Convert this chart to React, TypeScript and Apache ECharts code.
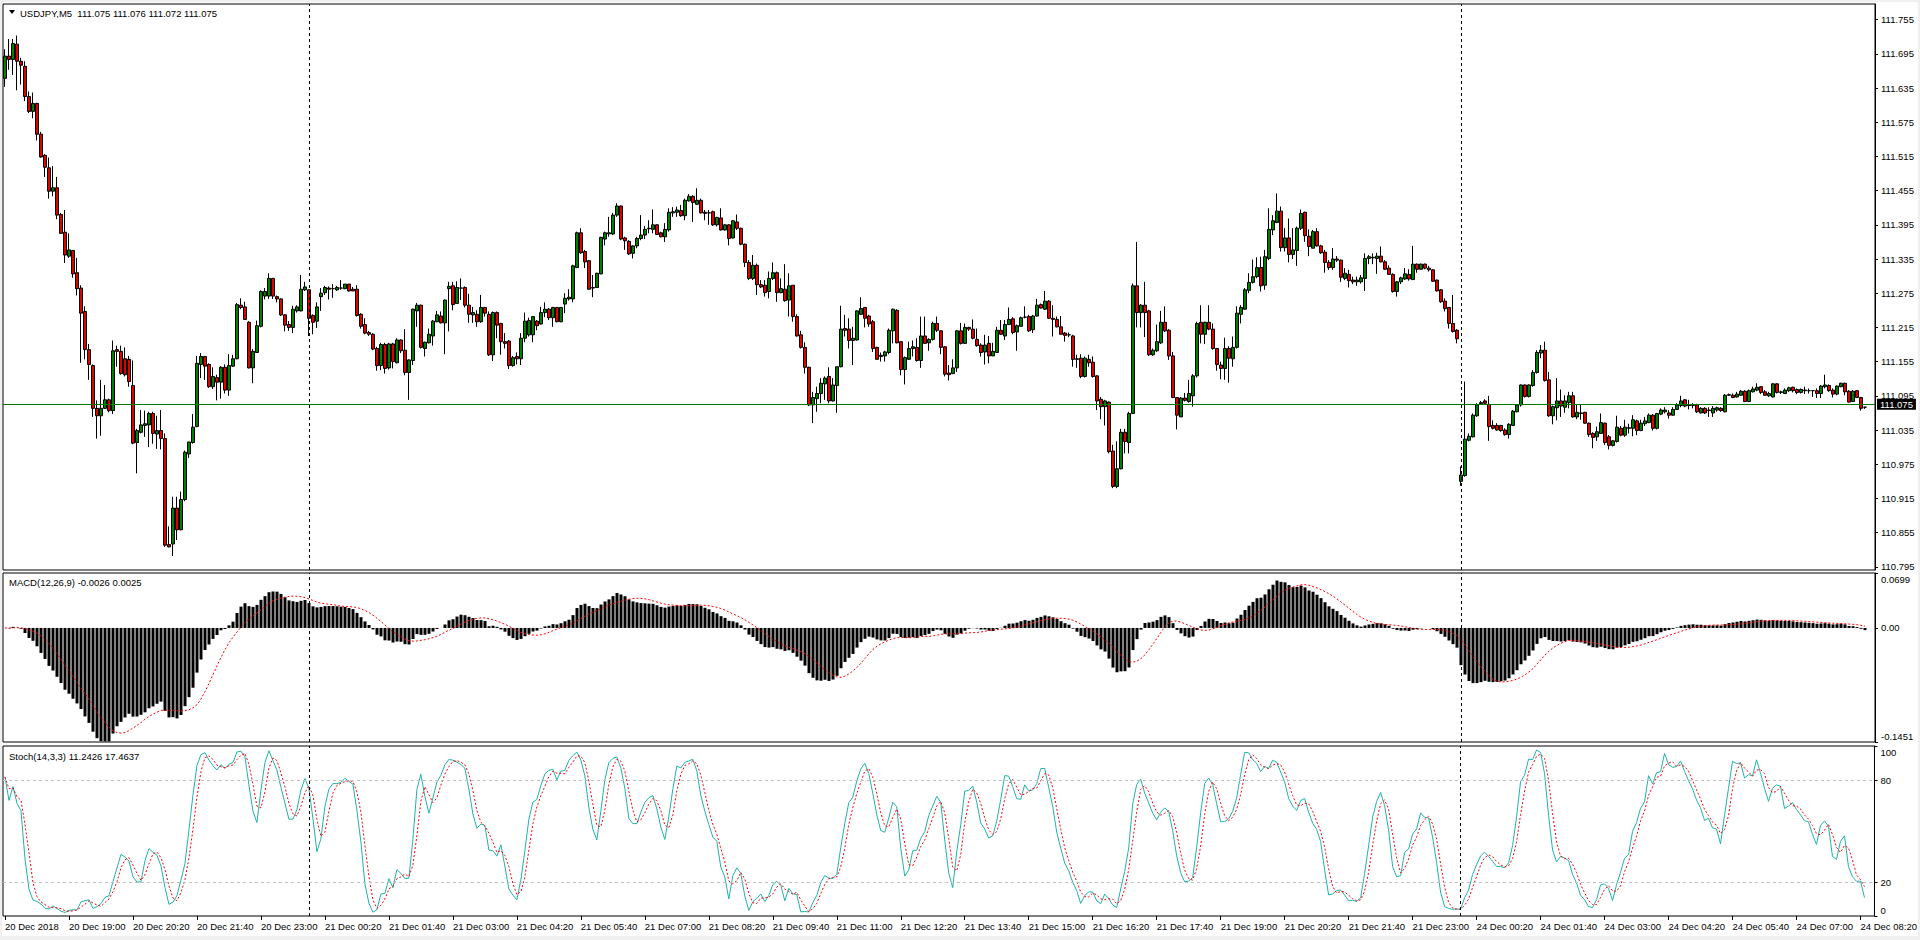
import React, { useEffect, useRef } from "react";
import * as echarts from "echarts";

// ---------- data (USDJPY, M5) ----------
const HEADER = "USDJPY,M5  111.075 111.076 111.072 111.075";
const MACD_TITLE = "MACD(12,26,9) -0.0026 0.0025";
const STOCH_TITLE = "Stoch(14,3,3) 11.2426 17.4637";
const BID = 111.075;
const DAY_BREAKS = [76, 364];

const TICK_LABELS = [
  "20 Dec 2018", "20 Dec 19:00", "20 Dec 20:20", "20 Dec 21:40", "20 Dec 23:00",
  "21 Dec 00:20", "21 Dec 01:40", "21 Dec 03:00", "21 Dec 04:20", "21 Dec 05:40",
  "21 Dec 07:00", "21 Dec 08:20", "21 Dec 09:40", "21 Dec 11:00", "21 Dec 12:20",
  "21 Dec 13:40", "21 Dec 15:00", "21 Dec 16:20", "21 Dec 17:40", "21 Dec 19:00",
  "21 Dec 20:20", "21 Dec 21:40", "21 Dec 23:00", "24 Dec 00:20", "24 Dec 01:40",
  "24 Dec 03:00", "24 Dec 04:20", "24 Dec 05:40", "24 Dec 07:00", "24 Dec 08:20",
];
const PRICE_TICKS = [
  110.795, 110.855, 110.915, 110.975, 111.035, 111.095, 111.155, 111.215, 111.275,
  111.335, 111.395, 111.455, 111.515, 111.575, 111.635, 111.695, 111.755,
];
const MACD_TICKS = [-0.1451, 0, 0.0699];
const STOCH_TICKS = [0, 20, 80, 100];
const STOCH_LEVELS = [20, 80];

const OPEN = [
  111.652,111.691,111.685,111.712,111.682,111.673,111.620,111.594,111.608,111.554,
  111.517,111.495,111.454,111.460,111.413,111.382,111.340,111.350,111.311,111.284,
  111.243,111.176,111.148,111.073,111.060,111.073,111.088,111.069,111.176,111.173,
  111.160,111.159,111.113,111.013,111.031,111.043,111.044,111.064,111.028,111.034,
  111.020,110.834,110.835,110.898,110.860,110.913,110.993,111.013,111.041,111.150,
  111.164,111.150,111.111,111.127,111.119,111.145,111.105,111.147,111.160,111.254,
  111.251,111.224,111.144,111.171,111.217,111.270,111.270,111.301,111.269,111.265,
  111.237,111.220,111.215,111.244,111.244,111.281,111.281,111.236,111.226,111.269,
  111.276,111.284,111.283,111.281,111.284,111.283,111.291,111.282,111.282,111.238,
  111.220,111.206,111.203,111.178,111.148,111.185,111.144,111.186,111.153,111.193,
  111.175,111.136,111.157,111.244,111.254,111.178,111.188,111.200,111.225,111.235,
  111.223,111.283,111.288,111.257,111.284,111.285,111.254,111.237,111.238,111.225,
  111.250,111.238,111.167,111.241,111.222,111.190,111.191,111.148,111.164,111.160,
  111.196,111.202,111.202,111.226,111.221,111.241,111.247,111.232,111.250,111.225,
  111.256,111.265,111.265,111.320,111.381,111.348,111.332,111.284,111.285,111.309,
  111.370,111.379,111.379,111.412,111.428,111.372,111.366,111.345,111.358,111.371,
  111.377,111.388,111.387,111.395,111.381,111.374,111.386,111.416,111.417,111.420,
  111.411,111.437,111.445,111.431,111.438,111.417,111.416,111.418,111.395,111.407,
  111.386,111.395,111.372,111.400,111.389,111.361,111.329,111.301,111.324,111.290,
  111.289,111.278,111.301,111.311,111.276,111.282,111.263,111.289,111.234,111.202,
  111.180,111.145,111.079,111.090,111.099,111.116,111.129,111.086,111.113,111.146,
  111.213,111.212,111.192,111.193,111.238,111.250,111.235,111.225,111.180,111.166,
  111.165,111.171,111.209,111.245,111.190,111.141,111.159,111.178,111.180,111.157,
  111.200,111.188,111.194,111.222,111.209,111.181,111.135,111.134,111.144,111.209,
  111.187,111.215,111.212,111.194,111.184,111.172,111.187,111.165,111.171,111.210,
  111.200,111.220,111.230,111.207,111.217,111.233,111.234,111.211,111.235,111.255,
  111.247,111.261,111.231,111.229,111.216,111.205,111.202,111.200,111.160,111.161,
  111.129,111.159,111.154,111.130,111.089,111.076,111.084,110.998,110.936,110.967,
  111.031,111.013,111.064,111.288,111.241,111.254,111.244,111.167,111.174,111.188,
  111.224,111.210,111.165,111.092,111.058,111.091,111.085,111.095,111.130,111.224,
  111.203,111.224,111.212,111.178,111.149,111.143,111.178,111.160,111.180,111.238,
  111.247,111.280,111.294,111.304,111.320,111.289,111.336,111.386,111.399,111.419,
  111.355,111.372,111.343,111.350,111.389,111.417,111.375,111.354,111.383,111.358,
  111.347,111.329,111.320,111.335,111.333,111.301,111.308,111.298,111.295,111.295,
  111.301,111.336,111.338,111.336,111.340,111.330,111.319,111.308,111.278,111.295,
  111.300,111.308,111.299,111.326,111.317,111.326,111.319,111.316,111.298,111.281,
  111.261,111.250,111.222,111.210,110.945,110.955,111.017,111.023,111.060,111.081,
  111.086,111.080,111.043,111.043,111.043,111.035,111.027,111.043,111.067,111.079,
  111.114,111.094,111.113,111.136,111.170,111.175,111.123,111.060,111.074,111.086,
  111.075,111.083,111.095,111.058,111.065,111.066,111.047,111.029,111.023,111.029,
  111.047,111.023,111.008,111.015,111.038,111.026,111.039,111.038,111.051,111.034,
  111.046,111.048,111.061,111.038,111.063,111.067,111.065,111.061,111.071,111.078,
  111.088,111.078,111.078,111.079,111.065,111.073,111.069,111.065,111.070,111.073,
  111.067,111.096,111.096,111.093,111.096,111.103,111.085,111.102,111.105,111.111,
  111.102,111.095,111.093,111.116,111.101,111.099,111.104,111.110,111.106,111.101,
  111.105,111.104,111.104,111.104,111.099,111.111,111.113,111.105,111.098,111.111,
  111.117,111.103,111.085,111.104,111.092,111.075,
];
const HIGH = [
  111.703,111.721,111.721,111.727,111.688,111.682,111.629,111.627,111.609,111.558,
  111.519,111.513,111.498,111.479,111.416,111.421,111.380,111.351,111.337,111.289,
  111.252,111.186,111.150,111.087,111.123,111.114,111.090,111.192,111.183,111.183,
  111.180,111.165,111.157,111.037,111.070,111.069,111.067,111.067,111.060,111.070,
  111.029,110.866,110.918,110.918,110.927,110.999,111.014,111.063,111.165,111.170,
  111.165,111.152,111.145,111.132,111.147,111.150,111.168,111.167,111.258,111.266,
  111.260,111.226,111.177,111.227,111.280,111.284,111.310,111.302,111.271,111.266,
  111.238,111.226,111.253,111.254,111.307,111.295,111.281,111.238,111.259,111.284,
  111.288,111.287,111.291,111.288,111.298,111.291,111.291,111.286,111.289,111.240,
  111.231,111.209,111.205,111.181,111.188,111.188,111.188,111.188,111.196,111.194,
  111.212,111.159,111.248,111.258,111.255,111.190,111.213,111.228,111.244,111.243,
  111.264,111.295,111.295,111.296,111.301,111.287,111.274,111.251,111.245,111.272,
  111.251,111.243,111.243,111.243,111.223,111.205,111.193,111.165,111.171,111.205,
  111.241,111.232,111.235,111.228,111.251,111.259,111.249,111.251,111.251,111.251,
  111.275,111.282,111.325,111.383,111.389,111.351,111.333,111.307,111.311,111.374,
  111.383,111.409,111.416,111.433,111.429,111.374,111.368,111.359,111.374,111.412,
  111.393,111.403,111.422,111.396,111.383,111.398,111.424,111.426,111.427,111.430,
  111.441,111.449,111.447,111.459,111.441,111.421,111.421,111.420,111.409,111.424,
  111.396,111.396,111.403,111.413,111.390,111.362,111.333,111.342,111.327,111.298,
  111.298,111.313,111.329,111.313,111.301,111.326,111.310,111.289,111.238,111.209,
  111.189,111.146,111.102,111.111,111.126,111.129,111.145,111.126,111.146,111.253,
  111.237,111.231,111.216,111.245,111.268,111.251,111.237,111.228,111.181,111.171,
  111.174,111.213,111.248,111.247,111.191,111.164,111.190,111.192,111.196,111.234,
  111.234,111.196,111.225,111.234,111.210,111.182,111.149,111.159,111.210,111.223,
  111.222,111.216,111.229,111.213,111.187,111.202,111.200,111.188,111.216,111.228,
  111.228,111.250,111.233,111.220,111.234,111.252,111.237,111.237,111.265,111.257,
  111.279,111.263,111.254,111.234,111.235,111.207,111.206,111.202,111.167,111.168,
  111.164,111.167,111.164,111.131,111.093,111.088,111.085,111.009,111.015,111.037,
  111.037,111.067,111.292,111.365,111.256,111.295,111.246,111.178,111.220,111.244,
  111.252,111.212,111.172,111.093,111.093,111.100,111.123,111.133,111.225,111.254,
  111.225,111.254,111.222,111.179,111.155,111.197,111.182,111.199,111.252,111.254,
  111.284,111.310,111.334,111.338,111.339,111.351,111.424,111.412,111.450,111.427,
  111.389,111.406,111.389,111.392,111.422,111.418,111.387,111.386,111.389,111.360,
  111.351,111.333,111.354,111.340,111.334,111.319,111.316,111.304,111.304,111.307,
  111.345,111.342,111.345,111.346,111.357,111.333,111.324,111.310,111.296,111.304,
  111.319,111.317,111.358,111.327,111.327,111.327,111.323,111.317,111.299,111.282,
  111.266,111.251,111.272,111.212,110.971,111.120,111.029,111.064,111.082,111.086,
  111.089,111.095,111.052,111.047,111.044,111.038,111.047,111.070,111.080,111.115,
  111.115,111.115,111.140,111.175,111.184,111.190,111.137,111.078,111.126,111.106,
  111.096,111.102,111.102,111.079,111.079,111.067,111.048,111.031,111.041,111.064,
  111.048,111.026,111.017,111.060,111.042,111.053,111.046,111.061,111.053,111.053,
  111.058,111.064,111.063,111.065,111.073,111.075,111.070,111.075,111.082,111.095,
  111.089,111.088,111.082,111.081,111.075,111.075,111.075,111.077,111.076,111.075,
  111.098,111.099,111.099,111.102,111.105,111.105,111.106,111.111,111.117,111.112,
  111.105,111.102,111.117,111.117,111.104,111.108,111.111,111.111,111.108,111.108,
  111.111,111.108,111.105,111.108,111.114,111.132,111.115,111.108,111.113,111.118,
  111.118,111.105,111.105,111.105,111.093,111.076,
];
const LOW = [
  111.637,111.667,111.658,111.631,111.641,111.612,111.591,111.582,111.543,111.513,
  111.479,111.441,111.445,111.405,111.379,111.328,111.337,111.302,111.271,111.153,
  111.159,111.123,111.058,111.020,111.025,111.072,111.066,111.063,111.146,111.132,
  111.129,111.111,111.010,110.959,111.029,111.023,111.005,111.011,111.002,111.001,
  110.830,110.829,110.814,110.842,110.859,110.910,110.986,111.011,111.040,111.126,
  111.123,111.109,111.107,111.087,111.090,111.099,111.095,111.146,111.159,111.247,
  111.228,111.143,111.117,111.170,111.215,111.264,111.265,111.265,111.259,111.235,
  111.208,111.209,111.205,111.241,111.243,111.279,111.200,111.203,111.214,111.244,
  111.272,111.264,111.267,111.279,111.281,111.282,111.278,111.279,111.234,111.213,
  111.203,111.200,111.175,111.139,111.140,111.134,111.141,111.143,111.152,111.170,
  111.131,111.088,111.149,111.216,111.178,111.164,111.187,111.183,111.224,111.222,
  111.168,111.208,111.245,111.256,111.263,111.250,111.223,111.223,111.216,111.223,
  111.234,111.165,111.156,111.196,111.167,111.178,111.142,111.146,111.150,111.149,
  111.189,111.199,111.189,111.210,111.220,111.233,111.228,111.216,111.224,111.224,
  111.240,111.262,111.259,111.319,111.344,111.319,111.281,111.268,111.284,111.308,
  111.359,111.374,111.377,111.409,111.368,111.351,111.342,111.336,111.354,111.368,
  111.370,111.380,111.380,111.377,111.373,111.365,111.383,111.409,111.409,111.409,
  111.403,111.436,111.400,111.430,111.415,111.403,111.395,111.393,111.392,111.385,
  111.385,111.359,111.371,111.386,111.359,111.321,111.298,111.298,111.272,111.284,
  111.269,111.266,111.298,111.260,111.275,111.260,111.234,111.225,111.199,111.178,
  111.134,111.077,111.047,111.067,111.082,111.088,111.082,111.085,111.065,111.145,
  111.199,111.178,111.149,111.192,111.237,111.215,111.216,111.172,111.159,111.155,
  111.155,111.168,111.187,111.187,111.131,111.115,111.158,111.164,111.155,111.144,
  111.186,111.174,111.192,111.207,111.168,111.129,111.122,111.133,111.137,111.185,
  111.186,111.209,111.194,111.181,111.164,111.150,111.152,111.165,111.171,111.202,
  111.193,111.219,111.203,111.174,111.216,111.231,111.207,111.205,111.234,111.248,
  111.246,111.230,111.199,111.215,111.203,111.190,111.198,111.146,111.144,111.126,
  111.127,111.146,111.127,111.070,111.054,111.043,110.994,110.933,110.933,110.966,
  110.994,110.994,111.063,111.215,111.215,111.198,111.165,111.165,111.172,111.186,
  111.207,111.158,111.091,111.036,111.058,111.085,111.083,111.076,111.127,111.187,
  111.186,111.210,111.176,111.139,111.124,111.123,111.118,111.146,111.178,111.222,
  111.246,111.275,111.292,111.301,111.278,111.281,111.333,111.377,111.398,111.348,
  111.348,111.329,111.335,111.323,111.386,111.365,111.340,111.354,111.357,111.344,
  111.311,111.316,111.316,111.330,111.295,111.298,111.285,111.291,111.288,111.292,
  111.279,111.326,111.326,111.309,111.329,111.316,111.307,111.276,111.269,111.291,
  111.298,111.297,111.298,111.311,111.316,111.317,111.313,111.295,111.278,111.258,
  111.243,111.213,111.206,111.187,110.937,110.953,111.015,111.022,111.058,111.079,
  111.081,111.016,111.036,111.034,111.032,111.025,111.020,111.042,111.066,111.076,
  111.092,111.092,111.111,111.134,111.161,111.120,111.058,111.045,111.052,111.058,
  111.065,111.073,111.057,111.054,111.053,111.046,111.023,111.003,111.016,111.028,
  111.009,111.001,111.006,111.013,111.024,111.023,111.029,111.024,111.026,111.033,
  111.042,111.047,111.034,111.036,111.061,111.064,111.055,111.060,111.070,111.075,
  111.075,111.071,111.073,111.065,111.064,111.063,111.058,111.058,111.067,111.067,
  111.066,111.095,111.091,111.092,111.095,111.084,111.084,111.101,111.103,111.098,
  111.095,111.093,111.092,111.099,111.098,111.098,111.102,111.101,111.098,111.099,
  111.098,111.099,111.093,111.091,111.091,111.108,111.102,111.092,111.096,111.110,
  111.096,111.083,111.084,111.091,111.069,111.072,
];
const CLOSE = [
  111.691,111.685,111.713,111.682,111.675,111.620,111.594,111.608,111.554,111.514,
  111.496,111.454,111.460,111.412,111.380,111.342,111.351,111.309,111.283,111.240,
  111.176,111.150,111.073,111.060,111.073,111.088,111.069,111.174,111.173,111.134,
  111.132,111.120,111.012,111.034,111.044,111.046,111.064,111.029,111.034,111.020,
  110.833,110.830,110.898,110.860,110.913,110.996,111.014,111.040,111.152,111.164,
  111.147,111.111,111.129,111.119,111.145,111.105,111.148,111.160,111.255,111.250,
  111.229,111.144,111.173,111.218,111.278,111.278,111.301,111.270,111.265,111.237,
  111.219,111.215,111.247,111.251,111.282,111.286,111.231,111.224,111.251,111.275,
  111.285,111.282,111.283,111.285,111.284,111.291,111.279,111.279,111.236,111.217,
  111.205,111.203,111.177,111.148,111.185,111.143,111.186,111.155,111.193,111.174,
  111.136,111.158,111.247,111.254,111.180,111.189,111.203,111.226,111.237,111.223,
  111.263,111.287,111.255,111.285,111.284,111.254,111.238,111.241,111.225,111.250,
  111.240,111.167,111.241,111.219,111.190,111.187,111.148,111.162,111.160,111.196,
  111.226,111.227,111.234,111.218,111.241,111.247,111.232,111.250,111.225,111.250,
  111.266,111.268,111.323,111.381,111.346,111.330,111.282,111.285,111.310,111.373,
  111.381,111.381,111.412,111.428,111.370,111.367,111.344,111.358,111.371,111.377,
  111.387,111.389,111.395,111.378,111.374,111.387,111.417,111.418,111.421,111.411,
  111.438,111.445,111.434,111.438,111.416,111.415,111.416,111.395,111.408,111.386,
  111.395,111.371,111.402,111.389,111.361,111.329,111.301,111.324,111.290,111.286,
  111.276,111.301,111.311,111.276,111.283,111.262,111.288,111.234,111.200,111.180,
  111.145,111.079,111.092,111.099,111.117,111.126,111.086,111.114,111.146,111.212,
  111.210,111.192,111.196,111.244,111.248,111.231,111.221,111.178,111.159,111.164,
  111.172,111.210,111.247,111.188,111.141,111.162,111.178,111.181,111.157,111.200,
  111.187,111.194,111.222,111.210,111.180,111.133,111.132,111.144,111.209,111.187,
  111.215,111.212,111.196,111.183,111.171,111.184,111.165,111.173,111.210,111.203,
  111.220,111.229,111.206,111.218,111.232,111.233,111.209,111.235,111.254,111.249,
  111.261,111.231,111.229,111.216,111.203,111.201,111.202,111.159,111.159,111.129,
  111.161,111.153,111.129,111.086,111.076,111.086,110.997,110.936,110.967,111.031,
  111.015,111.064,111.288,111.241,111.254,111.241,111.167,111.175,111.190,111.224,
  111.209,111.165,111.092,111.061,111.091,111.087,111.099,111.130,111.222,111.203,
  111.224,111.212,111.178,111.150,111.143,111.178,111.161,111.180,111.240,111.250,
  111.281,111.294,111.304,111.320,111.288,111.339,111.387,111.402,111.419,111.355,
  111.372,111.343,111.351,111.389,111.415,111.376,111.357,111.383,111.358,111.346,
  111.329,111.320,111.335,111.333,111.303,111.310,111.297,111.295,111.298,111.302,
  111.336,111.339,111.337,111.340,111.330,111.317,111.308,111.278,111.295,111.302,
  111.309,111.300,111.326,111.317,111.326,111.319,111.316,111.296,111.279,111.260,
  111.248,111.222,111.208,111.195,110.956,111.019,111.024,111.061,111.079,111.083,
  111.082,111.041,111.038,111.035,111.034,111.027,111.045,111.068,111.079,111.114,
  111.094,111.114,111.136,111.171,111.175,111.122,111.060,111.076,111.086,111.077,
  111.086,111.095,111.058,111.066,111.064,111.047,111.027,111.022,111.032,111.048,
  111.013,111.008,111.016,111.040,111.026,111.040,111.038,111.053,111.034,111.047,
  111.051,111.061,111.038,111.064,111.070,111.070,111.061,111.071,111.079,111.086,
  111.077,111.079,111.078,111.067,111.073,111.065,111.070,111.073,111.074,111.069,
  111.096,111.097,111.092,111.098,111.103,111.085,111.104,111.107,111.110,111.101,
  111.096,111.099,111.116,111.101,111.102,111.105,111.109,111.104,111.101,111.106,
  111.104,111.104,111.104,111.099,111.112,111.114,111.104,111.098,111.112,111.117,
  111.102,111.084,111.103,111.092,111.073,111.075,
];

// ---------- indicator definitions applied to the price arrays ----------
function ema(src: number[], period: number): number[] {
  const k = 2 / (period + 1);
  const out: number[] = [];
  src.forEach((v, i) => out.push(i === 0 ? v : out[i - 1] + k * (v - out[i - 1])));
  return out;
}
function sma(src: number[], period: number): number[] {
  return src.map((_, i) => {
    const s = Math.max(0, i - period + 1);
    let t = 0;
    for (let j = s; j <= i; j++) t += src[j];
    return t / (i - s + 1);
  });
}
function stochMain(kp: number, slow: number): number[] {
  return CLOSE.map((_, i) => {
    let num = 0, den = 0;
    for (let j = Math.max(0, i - slow + 1); j <= i; j++) {
      const s = Math.max(0, j - kp + 1);
      let hh = -Infinity, ll = Infinity;
      for (let m = s; m <= j; m++) { hh = Math.max(hh, HIGH[m]); ll = Math.min(ll, LOW[m]); }
      num += CLOSE[j] - ll;
      den += hh - ll;
    }
    return den === 0 ? 50 : (100 * num) / den;
  });
}

const FONT = "'Liberation Sans', Arial, sans-serif";
const FS = 9.5;
const TXT = { color: "#000", fontFamily: FONT, fontSize: FS };

function buildOption(): any {
  const n = OPEN.length;
  const cats = Array.from({ length: n + 2 }, (_, i) => String(i));
  const e12 = ema(CLOSE, 12), e26 = ema(CLOSE, 26);
  const macd = CLOSE.map((_, i) => e12[i] - e26[i]);
  const signal = sma(macd, 9);
  const kLine = stochMain(14, 3);
  const dLine = sma(kLine, 3);
  const candles = OPEN.map((o, i) => {
    const c = CLOSE[i];
    return [o, c, Math.min(LOW[i], o, c), Math.max(HIGH[i], o, c)];
  });

  const gridBase = { left: 3, width: 4 * (n + 2), show: true, borderColor: "#000", borderWidth: 1, backgroundColor: "#fff" };
  const grids = [
    { ...gridBase, top: 4, height: 566 },
    { ...gridBase, top: 573, height: 169 },
    { ...gridBase, top: 746, height: 170 },
  ];
  const dayLines = DAY_BREAKS.map((b) => ({
    xAxis: String(b),
    lineStyle: { color: "#000", type: [3, 3], width: 1 },
    label: { show: false },
  }));

  const xAxes = [0, 1, 2].map((gi) => ({
    type: "category",
    gridIndex: gi,
    data: cats,
    boundaryGap: true,
    axisLine: { show: false },
    splitLine: { show: false },
    axisTick:
      gi === 2
        ? { show: true, interval: 15, alignWithLabel: true, length: 4, lineStyle: { color: "#000" } }
        : { show: false },
    axisLabel:
      gi === 2
        ? {
            show: true,
            interval: 15,
            align: "left",
            margin: 5,
            ...TXT,
            formatter: (_v: string, idx: number) =>
              idx % 16 === 0 && idx / 16 < TICK_LABELS.length ? TICK_LABELS[idx / 16] : "",
          }
        : { show: false },
  }));

  const yBase = (gi: number, min: number, max: number, ticks: number[], fmt: (v: number) => string) => ({
    type: "value",
    gridIndex: gi,
    position: "right",
    min,
    max,
    splitLine: { show: false },
    axisLine: { show: true, lineStyle: { color: "#000" } },
    axisTick: { show: true, length: 3, customValues: ticks, lineStyle: { color: "#000" } },
    axisLabel: {
      show: true,
      margin: 6,
      customValues: ticks,
      ...TXT,
      formatter: fmt,
      rich: {
        dn: { ...TXT, padding: [12, 0, 0, 0] },
        up: { ...TXT, padding: [0, 0, 12, 0] },
      },
    },
  });

  return {
    animation: false,
    backgroundColor: "transparent",
    grid: grids,
    xAxis: xAxes,
    yAxis: [
      yBase(0, 110.7894, 111.7824, PRICE_TICKS, (v) => v.toFixed(3)),
      yBase(1, MACD_TICKS[0], MACD_TICKS[2], MACD_TICKS, (v) =>
        v === 0 ? "0.00" : v > 0 ? `{dn|${v.toFixed(4)}}` : `{up|${v.toFixed(4)}}`
      ),
      yBase(2, 0, 100, STOCH_TICKS, (v) =>
        v === 100 ? `{dn|${v}}` : v === 0 ? `{up|${v}}` : String(v)
      ),
    ],
    series: [
      {
        type: "candlestick",
        xAxisIndex: 0,
        yAxisIndex: 0,
        large: false,
        barWidth: 3,
        data: candles,
        itemStyle: { color: "#008000", color0: "#e00000", borderColor: "#000", borderColor0: "#000", borderWidth: 1 },
        markLine: {
          silent: true,
          symbol: ["none", "none"],
          data: [
            ...dayLines,
            {
              yAxis: BID,
              lineStyle: { color: "#007800", type: "solid", width: 1 },
              label: {
                show: true,
                position: "end",
                distance: 2,
                formatter: BID.toFixed(3),
                color: "#fff",
                backgroundColor: "#000",
                padding: [1, 3, 0, 3],
                fontFamily: FONT,
                fontSize: FS,
              },
            },
          ],
        },
      },
      {
        type: "bar",
        xAxisIndex: 1,
        yAxisIndex: 1,
        barWidth: 3,
        data: macd,
        itemStyle: { color: "#000" },
        markLine: { silent: true, symbol: ["none", "none"], data: dayLines },
      },
      {
        type: "line",
        xAxisIndex: 1,
        yAxisIndex: 1,
        data: signal,
        showSymbol: false,
        lineStyle: { color: "#ff0000", width: 1, type: [2, 2] },
      },
      {
        type: "line",
        xAxisIndex: 2,
        yAxisIndex: 2,
        data: kLine,
        showSymbol: false,
        lineStyle: { color: "#20b2aa", width: 1 },
        markLine: {
          silent: true,
          symbol: ["none", "none"],
          data: [
            ...STOCH_LEVELS.map((lv) => ({ yAxis: lv, lineStyle: { color: "#c0c0c0", type: [3, 3], width: 1 }, label: { show: false } })),
            ...dayLines,
          ],
        },
      },
      {
        type: "line",
        xAxisIndex: 2,
        yAxisIndex: 2,
        data: dLine,
        showSymbol: false,
        lineStyle: { color: "#ff0000", width: 1, type: [2, 2] },
      },
    ],
    graphic: [
      { type: "polygon", z: 100, shape: { points: [[9, 10], [15, 10], [12, 14]] }, style: { fill: "#000" } },
      { type: "text", z: 100, x: 20, y: 13, style: { text: HEADER, ...textStyle() } },
      { type: "text", z: 100, x: 9, y: 582, style: { text: MACD_TITLE, ...textStyle() } },
      { type: "text", z: 100, x: 9, y: 756, style: { text: STOCH_TITLE, ...textStyle() } },
    ],
  };
}
function textStyle() {
  return { fill: "#000", font: `${FS}px ${FONT}`, verticalAlign: "middle", align: "left" };
}

export default function App() {
  const ref = useRef<HTMLDivElement>(null);
  useEffect(() => {
    const el = ref.current;
    if (!el) return;
    const chart = echarts.init(el, null, { renderer: "svg" });
    chart.setOption(buildOption());
    return () => chart.dispose();
  }, []);
  return (
    <div style={{ position: "fixed", left: 0, top: 0, width: 1920, height: 940, background: "#f0f0f0" }}>
      <div style={{ position: "absolute", left: 2, top: 2, width: 1916, height: 934, background: "#fff" }} />
      <div ref={ref} style={{ position: "absolute", left: 0, top: 0, width: 1920, height: 940 }} />
    </div>
  );
}
